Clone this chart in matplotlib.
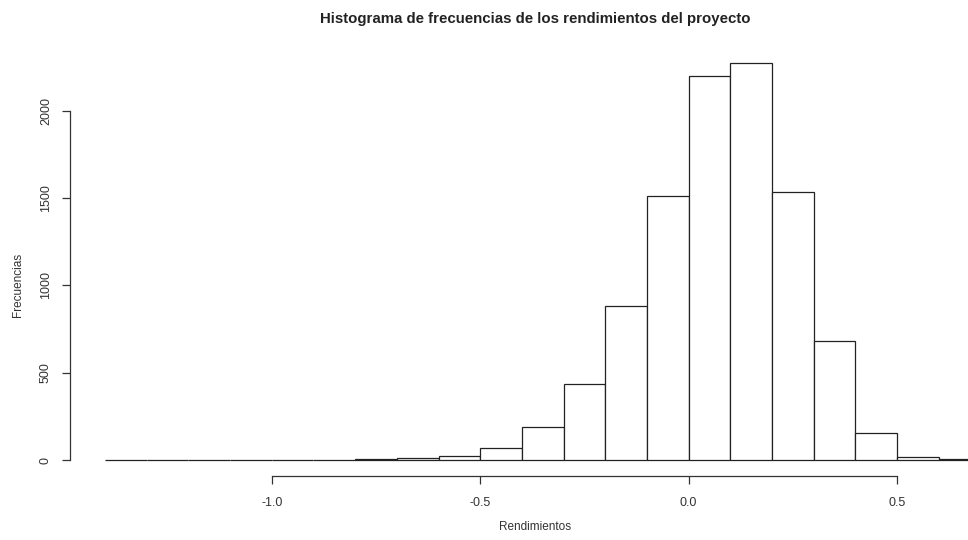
import numpy as np
import matplotlib
matplotlib.use("Agg")
import matplotlib.pyplot as plt

plt.rcParams['font.family'] = ['Liberation Sans', 'DejaVu Sans']

# limites de las clases del histograma (ancho 0.1)
breaks = [-1.4, -1.3, -1.2, -1.1, -1.0, -0.9, -0.8, -0.7, -0.6, -0.5, -0.4,
          -0.3, -0.2, -0.1, 0.0, 0.1, 0.2, 0.3, 0.4, 0.5, 0.6, 0.7]
# frecuencias
counts = [1, 0, 0, 0, 0, 1, 5, 12, 23, 71, 190, 435, 885, 1511, 2201,
          2274, 1534, 684, 153, 17, 5]
x_ticks = [-1.0, -0.5, 0.0, 0.5]
y_ticks = [0, 500, 1000, 1500, 2000]

fig = plt.figure(figsize=(9.68, 5.4), dpi=100)
ax = fig.add_axes([0.0723, 0.1185, 0.9277, 0.7945])

lefts = np.array(breaks[:-1])
widths = np.diff(breaks)
ax.bar(lefts, counts, width=widths, align='edge', color='white',
       edgecolor='#222222', linewidth=0.9)

ax.set_xlim(-1.484, 0.67)
ax.set_ylim(-91, 2365)

# ejes al estilo de R
for s in ['top', 'right']:
    ax.spines[s].set_visible(False)
ax.spines['left'].set_bounds(0, 2000)
ax.spines['bottom'].set_bounds(-1.0, 0.5)
for s in ['left', 'bottom']:
    ax.spines[s].set_color('#333333')
    ax.spines[s].set_linewidth(0.9)

ax.set_xticks(x_ticks)
ax.set_xticklabels(['-1.0', '-0.5', '0.0', '0.5'])
ax.set_yticks(y_ticks)
ax.set_yticklabels([str(v) for v in y_ticks], rotation=90, va='center')
ax.tick_params(axis='both', direction='out', length=6, width=0.9,
               color='#333333', labelcolor='#333333', labelsize=9)
ax.tick_params(axis='x', pad=9)
ax.tick_params(axis='y', pad=7)

ax.set_xlabel('Rendimientos', fontsize=8.5, color='#333333')
ax.set_ylabel('Frecuencias', fontsize=8.5, color='#333333')
ax.xaxis.set_label_coords((535 - 70) / 898, -0.105)
ax.yaxis.set_label_coords(-46 / 898, (476 - 285) / 429)
fig.text(535 / 968, 1 - 19 / 540,
         'Histograma de frecuencias de los rendimientos del proyecto',
         ha='center', va='center', fontsize=10.8, fontweight='bold',
         color='#222222')

fig.savefig('out.png', dpi=100)
